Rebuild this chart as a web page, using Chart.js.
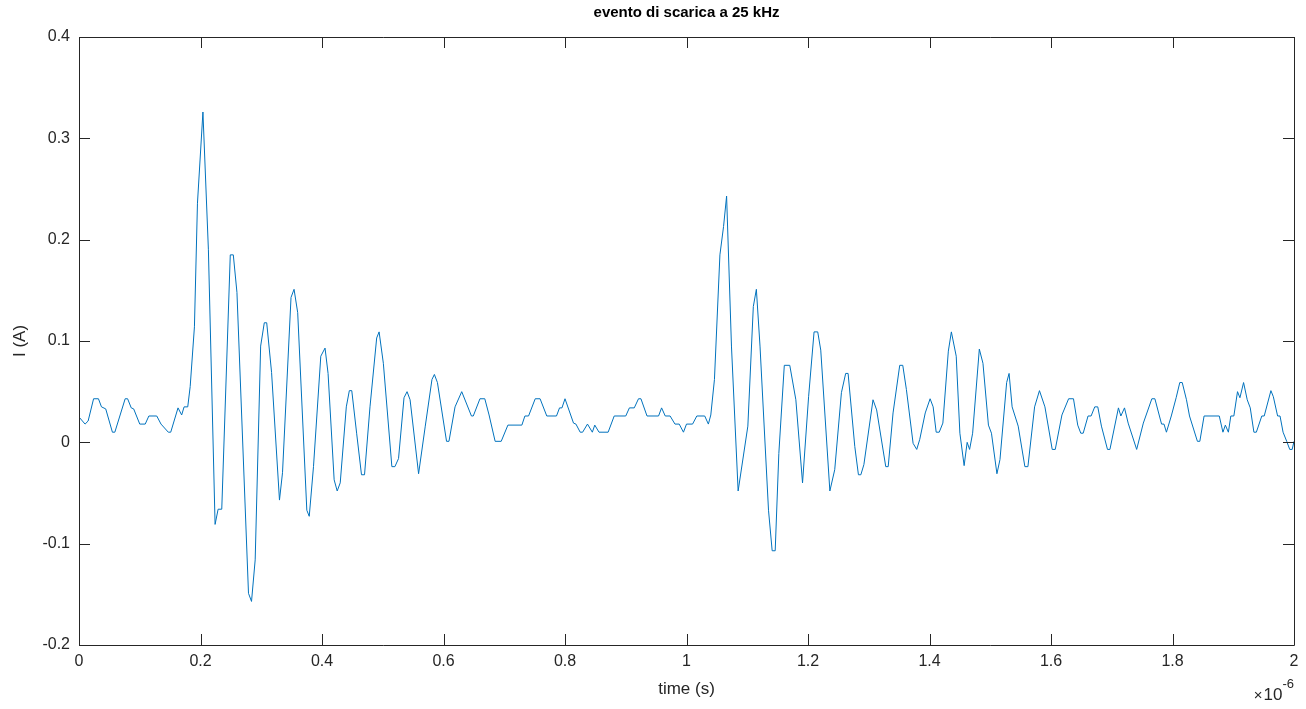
<!DOCTYPE html>
<html>
<head>
<meta charset="utf-8">
<script src="https://cdn.jsdelivr.net/npm/chart.js@4"></script>
<style>
  html, body { margin: 0; padding: 0; background: #fff; }
  #wrap { width: 1306px; height: 709px; }
</style>
</head>
<body>
<div id="wrap"><canvas id="chart" width="1306" height="709"></canvas></div>
<script>
// time in microseconds (axis shows x 10^-6 s)
const timeUs = [
  0.000, 0.010, 0.015, 0.024, 0.032, 0.037, 0.044, 0.055, 0.059, 0.076,
  0.080, 0.086, 0.090, 0.100, 0.109, 0.115, 0.128, 0.135, 0.147, 0.151,
  0.163, 0.169, 0.173, 0.179, 0.183, 0.190, 0.195, 0.204, 0.213, 0.224,
  0.229, 0.235, 0.249, 0.254, 0.260, 0.279, 0.284, 0.290, 0.299, 0.305,
  0.309, 0.317, 0.330, 0.335, 0.349, 0.354, 0.360, 0.375, 0.379, 0.386,
  0.398, 0.405, 0.410, 0.420, 0.425, 0.430, 0.440, 0.445, 0.449, 0.457,
  0.465, 0.470, 0.479, 0.490, 0.494, 0.501, 0.515, 0.520, 0.526, 0.535,
  0.540, 0.545, 0.559, 0.570, 0.581, 0.585, 0.590, 0.605, 0.609, 0.619,
  0.630, 0.646, 0.649, 0.660, 0.668, 0.675, 0.685, 0.695, 0.706, 0.729,
  0.734, 0.740, 0.751, 0.759, 0.770, 0.786, 0.791, 0.795, 0.800, 0.814,
  0.818, 0.825, 0.829, 0.837, 0.845, 0.849, 0.856, 0.871, 0.881, 0.900,
  0.906, 0.914, 0.921, 0.925, 0.935, 0.954, 0.959, 0.965, 0.973, 0.981,
  0.988, 0.995, 1.000, 1.010, 1.017, 1.030, 1.036, 1.040, 1.046, 1.055,
  1.061, 1.066, 1.074, 1.085, 1.101, 1.110, 1.115, 1.121, 1.135, 1.141,
  1.146, 1.152, 1.161, 1.170, 1.180, 1.191, 1.201, 1.210, 1.216, 1.221,
  1.236, 1.244, 1.255, 1.262, 1.266, 1.277, 1.283, 1.287, 1.292, 1.307,
  1.313, 1.328, 1.332, 1.340, 1.351, 1.356, 1.362, 1.373, 1.379, 1.384,
  1.393, 1.401, 1.406, 1.411, 1.416, 1.422, 1.431, 1.436, 1.444, 1.450,
  1.457, 1.462, 1.466, 1.471, 1.482, 1.488, 1.497, 1.502, 1.511, 1.516,
  1.527, 1.531, 1.536, 1.546, 1.557, 1.562, 1.573, 1.581, 1.590, 1.602,
  1.607, 1.618, 1.629, 1.637, 1.644, 1.649, 1.653, 1.661, 1.666, 1.672,
  1.677, 1.683, 1.693, 1.697, 1.711, 1.715, 1.721, 1.727, 1.741, 1.752,
  1.766, 1.771, 1.782, 1.786, 1.790, 1.798, 1.806, 1.812, 1.816, 1.823,
  1.828, 1.841, 1.845, 1.852, 1.877, 1.883, 1.887, 1.892, 1.896, 1.901,
  1.907, 1.911, 1.917, 1.923, 1.928, 1.934, 1.938, 1.947, 1.951, 1.962,
  1.966, 1.973, 1.977, 1.982, 1.988, 1.993, 1.997, 2.000
];

// current in A
const currentA = [
  0.025, 0.018, 0.021, 0.043, 0.043, 0.035, 0.033, 0.010, 0.010, 0.043,
  0.043, 0.034, 0.033, 0.018, 0.018, 0.026, 0.026, 0.018, 0.010, 0.010,
  0.034, 0.027, 0.035, 0.035, 0.055, 0.114, 0.236, 0.326, 0.190, -0.081,
  -0.066, -0.066, 0.185, 0.185, 0.148, -0.149, -0.157, -0.116, 0.095, 0.118,
  0.118, 0.069, -0.057, -0.030, 0.143, 0.151, 0.128, -0.067, -0.073, -0.024,
  0.085, 0.093, 0.068, -0.037, -0.048, -0.040, 0.035, 0.051, 0.051, 0.009,
  -0.032, -0.032, 0.035, 0.103, 0.109, 0.078, -0.024, -0.024, -0.016, 0.044,
  0.050, 0.042, -0.031, 0.016, 0.062, 0.067, 0.059, 0.001, 0.001, 0.035,
  0.050, 0.026, 0.026, 0.043, 0.043, 0.027, 0.001, 0.001, 0.017, 0.017,
  0.026, 0.026, 0.043, 0.043, 0.026, 0.026, 0.034, 0.034, 0.043, 0.019,
  0.018, 0.010, 0.010, 0.018, 0.010, 0.017, 0.010, 0.010, 0.026, 0.026,
  0.034, 0.034, 0.043, 0.043, 0.026, 0.026, 0.034, 0.026, 0.026, 0.018,
  0.018, 0.010, 0.018, 0.018, 0.026, 0.026, 0.018, 0.027, 0.062, 0.185,
  0.213, 0.243, 0.095, -0.048, 0.016, 0.134, 0.151, 0.095, -0.067, -0.107,
  -0.107, -0.011, 0.076, 0.076, 0.042, -0.040, 0.045, 0.109, 0.109, 0.091,
  -0.048, -0.027, 0.049, 0.068, 0.068, -0.004, -0.032, -0.032, -0.022, 0.042,
  0.032, -0.024, -0.024, 0.029, 0.076, 0.076, 0.052, -0.001, -0.007, 0.003,
  0.029, 0.043, 0.035, 0.010, 0.010, 0.019, 0.090, 0.109, 0.085, 0.009,
  -0.023, 0.000, -0.007, 0.009, 0.092, 0.078, 0.017, 0.009, -0.031, -0.017,
  0.059, 0.068, 0.035, 0.016, -0.024, -0.024, 0.035, 0.051, 0.035, -0.007,
  -0.007, 0.027, 0.043, 0.043, 0.017, 0.009, 0.009, 0.026, 0.026, 0.035,
  0.035, 0.016, -0.007, -0.007, 0.034, 0.026, 0.034, 0.019, -0.007, 0.019,
  0.043, 0.043, 0.018, 0.018, 0.010, 0.026, 0.044, 0.059, 0.059, 0.042,
  0.026, 0.001, 0.001, 0.026, 0.026, 0.010, 0.017, 0.010, 0.026, 0.026,
  0.050, 0.044, 0.059, 0.042, 0.034, 0.010, 0.010, 0.026, 0.026, 0.051,
  0.045, 0.026, 0.026, 0.010, 0.001, -0.007, -0.007, 0.001
];

const xTicks = [0, 0.2, 0.4, 0.6, 0.8, 1, 1.2, 1.4, 1.6, 1.8, 2];
const yTicks = [-0.2, -0.1, 0, 0.1, 0.2, 0.3, 0.4];

const titleText = 'evento di scarica a 25 kHz';
const xLabel = 'time (s)';
const yLabel = 'I (A)';

const FONT = "'Liberation Sans', Arial, Helvetica, sans-serif";
const AXIS_COLOR = '#262626';
const TICK_LEN = 11;

const points = timeUs.map((t, i) => ({ x: t, y: currentA[i] }));

// matlab-like box with inward ticks on all sides, plus the x10^-6 exponent
const boxPlugin = {
  id: 'matlabBox',
  afterDraw(chart) {
    const { ctx, chartArea: a, scales } = chart;
    const xs = scales.x, ys = scales.y;
    ctx.save();
    ctx.strokeStyle = AXIS_COLOR;
    ctx.lineWidth = 1;
    ctx.beginPath();
    ctx.rect(Math.round(a.left) + 0.5, Math.round(a.top) + 0.5,
             Math.round(a.right - a.left), Math.round(a.bottom - a.top));
    xTicks.forEach(v => {
      const px = Math.round(xs.getPixelForValue(v)) + 0.5;
      ctx.moveTo(px, a.bottom); ctx.lineTo(px, a.bottom - TICK_LEN);
      ctx.moveTo(px, a.top); ctx.lineTo(px, a.top + TICK_LEN);
    });
    yTicks.forEach(v => {
      const py = Math.round(ys.getPixelForValue(v)) + 0.5;
      ctx.moveTo(a.left, py); ctx.lineTo(a.left + TICK_LEN, py);
      ctx.moveTo(a.right, py); ctx.lineTo(a.right - TICK_LEN, py);
    });
    ctx.stroke();

    // exponent label
    ctx.fillStyle = AXIS_COLOR;
    ctx.textBaseline = 'alphabetic';
    ctx.textAlign = 'right';
    ctx.font = '13px ' + FONT;
    const expW = ctx.measureText('-6').width;
    ctx.fillText('-6', a.right, 688);
    ctx.font = '17px ' + FONT;
    ctx.fillText('10', a.right - expW, 700);
    const tenW = ctx.measureText('10').width;
    ctx.font = '15px ' + FONT;
    ctx.fillText('\u00d7', a.right - expW - tenW - 1, 700);
    ctx.restore();
  }
};

new Chart(document.getElementById('chart'), {
  type: 'line',
  data: {
    datasets: [{
      data: points,
      borderColor: '#0072BD',
      borderWidth: 1,
      pointRadius: 0,
      tension: 0,
      fill: false
    }]
  },
  options: {
    responsive: false,
    animation: false,
    parsing: false,
    layout: { padding: { left: 0, right: 12, top: 0, bottom: 0 } },
    plugins: {
      legend: { display: false },
      tooltip: { enabled: false },
      title: {
        display: true,
        text: titleText,
        fullSize: false,
        color: '#000',
        font: { family: FONT, size: 15, weight: 'bold' },
        padding: { top: 4, bottom: 15 }
      }
    },
    scales: {
      x: {
        type: 'linear',
        min: 0,
        max: 2,
        afterBuildTicks: s => { s.ticks = xTicks.map(v => ({ value: v })); },
        afterFit: s => { s.height = 64; },
        grid: { display: false, drawTicks: false },
        border: { display: false },
        ticks: {
          color: AXIS_COLOR,
          padding: 7,
          maxRotation: 0,
          autoSkip: false,
          font: { family: FONT, size: 16 },
          callback: v => String(Math.round(v * 10) / 10)
        },
        title: {
          display: true,
          text: xLabel,
          color: AXIS_COLOR,
          font: { family: FONT, size: 17 },
          padding: { top: 0, bottom: 9 }
        }
      },
      y: {
        type: 'linear',
        min: -0.2,
        max: 0.4,
        afterBuildTicks: s => { s.ticks = yTicks.map(v => ({ value: v })); },
        afterFit: s => { s.width = 79; },
        grid: { display: false, drawTicks: false },
        border: { display: false },
        ticks: {
          color: AXIS_COLOR,
          padding: 9,
          autoSkip: false,
          font: { family: FONT, size: 16 },
          callback: v => String(Math.round(v * 10) / 10)
        },
        title: {
          display: true,
          text: yLabel,
          color: AXIS_COLOR,
          font: { family: FONT, size: 17 },
          padding: { top: 10, bottom: 0 }
        }
      }
    }
  },
  plugins: [boxPlugin]
});
</script>
</body>
</html>
